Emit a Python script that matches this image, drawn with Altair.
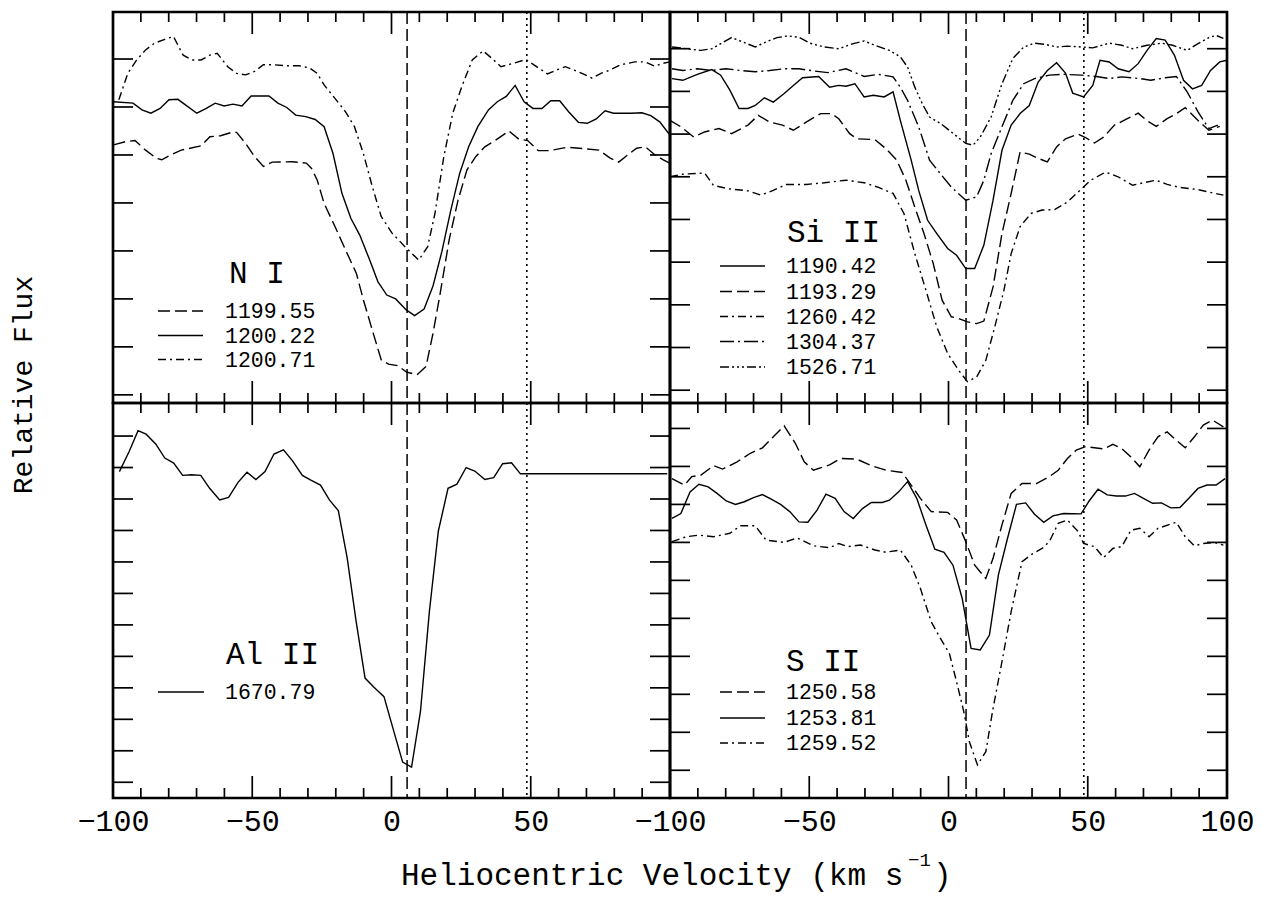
import altair as alt
import pandas as pd

FONT = "Liberation Mono"
W = 557
H_TOP = 391
H_BOT = 395

# ---------------- data (velocity km/s, relative flux in panel units) ----------------
# N I
ni1199_v = [-99.8,-95.3,-92.1,-88.3,-84.4,-82.5,-79.3,-75.5,-68.4,-65.2,-61.4,-57.5,-55.6,-52.4,-49.2,-46.0,-42.8,-35.7,-30.6,-28.7,-26.7,-24.2,-20.3,-16.5,-12.6,-10.1,-6.9,-3.7,-1.1,2.1,5.6,9.2,12.4,14.9,17.5,20.7,23.9,27.1,30.3,33.5,37.4,42.2,45.7,48.9,52.7,56.6,63.0,69.4,74.5,78.4,81.6,84.8,88.0,91.2,94.4,97.6,99.9]
ni1199_f = [5.21,5.28,5.30,5.10,4.93,4.90,5.00,5.10,5.19,5.38,5.40,5.47,5.47,5.24,4.97,4.76,4.85,4.86,4.83,4.72,4.48,3.99,3.51,3.02,2.53,1.98,1.35,0.73,0.64,0.61,0.47,0.42,0.59,1.28,2.12,3.23,4.06,4.69,4.97,5.17,5.31,5.50,5.33,5.30,5.09,5.09,5.16,5.13,5.10,4.94,4.85,5.00,5.14,5.17,5.01,4.90,4.83]
ni1200a_v = [-99.8,-92.8,-89.6,-86.4,-83.1,-79.9,-76.7,-69.9,-66.5,-63.3,-60.1,-56.9,-53.7,-50.4,-44.0,-40.8,-37.6,-34.4,-30.8,-27.4,-24.2,-21.0,-17.8,-14.6,-11.4,-8.1,-4.9,-1.7,1.5,5.3,8.3,11.7,14.9,18.1,21.3,24.5,27.7,31.0,34.8,38.0,41.2,44.4,47.6,50.8,54.0,57.2,60.4,63.6,67.1,70.3,73.5,76.7,79.7,86.1,89.9,93.1,96.3,99.9]
ni1200a_f = [6.11,6.08,5.94,5.87,5.97,6.15,6.16,5.87,5.97,6.08,6.02,6.06,6.02,6.23,6.23,6.08,5.99,5.83,5.80,5.74,5.59,5.03,4.20,3.68,3.33,2.85,2.36,2.08,2.00,1.77,1.65,1.79,2.27,2.99,3.85,4.62,5.17,5.59,5.94,6.11,6.22,6.45,6.11,5.97,5.97,6.13,6.13,5.90,5.68,5.66,5.75,5.92,5.87,5.87,5.88,5.82,5.69,5.42]
ni1200b_v = [-97.9,-94.7,-91.5,-88.3,-85.1,-81.9,-78.3,-74.8,-71.6,-68.4,-65.2,-62.6,-58.8,-55.6,-52.4,-49.2,-46.0,-42.1,-38.3,-33.2,-29.3,-26.7,-24.2,-20.3,-16.5,-13.3,-10.1,-6.9,-3.7,0.2,5.3,9.8,13.0,15.6,18.8,22.0,25.2,29.0,32.9,36.1,39.3,42.5,48.3,52.1,56.0,59.2,62.4,65.6,68.8,72.0,75.2,78.4,82.2,87.4,91.2,94.4,97.6,99.9]
ni1200b_f = [6.15,6.70,6.98,7.19,7.33,7.40,7.47,7.08,6.98,6.98,7.08,7.12,6.84,6.70,6.67,6.74,6.88,6.88,6.86,6.86,6.81,6.70,6.46,6.18,5.90,5.59,5.03,4.34,3.72,3.37,3.06,2.81,3.09,3.78,4.97,5.87,6.42,6.98,7.17,7.01,6.84,6.89,6.99,6.84,6.69,6.77,6.84,6.77,6.69,6.60,6.70,6.77,6.88,6.94,6.94,6.85,6.91,6.94]

# Si II
si1190_v = [-99.3,-95.4,-90.2,-85.0,-81.8,-78.5,-75.2,-72.0,-69.4,-66.1,-62.9,-59.0,-55.7,-52.4,-46.6,-42.7,-39.4,-36.8,-33.6,-30.3,-27.0,-23.1,-19.9,-17.3,-13.4,-10.7,-7.5,-4.2,-0.3,2.9,6.2,9.4,12.7,16.0,19.2,22.5,25.7,29.0,32.2,35.5,38.8,42.0,44.6,48.5,51.8,54.4,57.7,60.9,64.8,68.1,71.3,74.6,77.8,81.1,84.4,87.6,90.9,94.1,97.4,100.0]
si1190_f = [7.30,7.26,7.40,7.51,7.38,7.03,6.60,6.60,6.67,6.85,6.75,6.95,7.14,7.32,7.35,7.10,7.14,7.12,7.18,6.87,6.91,6.87,6.99,6.32,5.39,4.68,3.98,3.67,3.32,3.16,2.85,2.85,3.40,4.45,5.62,6.21,6.48,6.67,7.22,7.49,7.67,7.43,6.96,6.87,7.14,7.73,7.69,7.53,7.46,7.65,7.96,8.24,8.20,7.85,7.26,7.06,7.14,7.49,7.69,7.73]
si1193_v = [-100.0,-96.1,-91.5,-87.6,-82.4,-77.9,-72.0,-68.3,-64.2,-59.6,-55.7,-51.1,-45.9,-42.0,-39.4,-35.5,-32.9,-26.4,-22.5,-18.6,-15.3,-12.1,-8.8,-5.5,-2.3,1.0,3.6,6.8,10.1,12.7,16.0,19.2,22.5,25.7,29.0,32.2,35.5,38.8,42.0,46.6,49.2,52.4,55.7,59.6,64.2,68.1,71.3,74.6,78.5,81.8,85.0,89.6,93.5,97.4]
si1193_f = [6.32,6.17,5.93,6.05,6.13,6.01,6.21,6.44,6.28,6.21,6.09,6.28,6.48,6.48,6.36,6.01,5.89,5.87,5.66,5.39,4.92,4.29,3.67,2.97,2.11,1.72,1.68,1.60,1.56,1.62,2.42,3.67,4.61,5.58,5.53,5.43,5.35,5.70,5.89,6.00,5.92,5.79,5.93,6.21,6.36,6.49,6.31,6.18,6.36,6.48,6.62,6.32,6.09,6.18]
si1260_v = [-100.0,-95.4,-87.6,-84.4,-79.2,-72.0,-67.4,-62.9,-58.3,-51.1,-44.6,-36.8,-30.3,-25.1,-19.9,-16.0,-12.1,-8.1,-4.2,-0.3,3.6,6.8,10.1,13.4,16.6,19.9,22.5,25.7,29.6,33.6,38.1,42.7,47.2,51.1,56.4,60.9,66.1,70.0,74.6,78.5,83.1,89.6,93.5,98.7]
si1260_f = [5.00,5.06,5.09,4.80,4.72,4.67,4.57,4.68,4.82,4.82,4.86,4.92,4.86,4.75,4.61,4.14,3.20,2.34,1.48,0.86,0.47,0.20,0.31,0.70,1.48,2.34,3.20,3.83,4.14,4.22,4.23,4.41,4.68,4.92,5.11,5.00,4.80,4.86,4.92,4.82,4.75,4.70,4.64,4.57]
si1304_v = [-99.3,-95.4,-90.2,-85.0,-79.8,-74.6,-69.4,-64.2,-59.0,-53.7,-48.5,-43.3,-36.8,-30.3,-25.1,-19.9,-17.3,-14.7,-10.7,-6.8,-2.9,1.0,6.2,10.1,12.7,15.3,19.2,23.1,27.0,30.9,36.2,41.4,47.9,53.1,57.7,62.2,68.7,72.6,77.8,81.8,85.7,89.6,93.5,96.7]
si1304_f = [7.53,7.49,7.53,7.49,7.53,7.49,7.46,7.49,7.53,7.53,7.48,7.44,7.53,7.35,7.40,7.34,7.10,6.79,6.17,5.39,5.07,4.76,4.45,4.53,4.92,5.54,6.17,6.79,7.18,7.30,7.38,7.40,7.38,7.35,7.30,7.34,7.30,7.26,7.32,7.35,6.99,6.52,6.13,6.21]
si1526_v = [-99.3,-94.1,-88.9,-85.0,-77.9,-73.9,-69.4,-65.5,-61.6,-57.7,-53.7,-49.8,-44.6,-39.4,-34.2,-30.3,-26.4,-21.2,-17.3,-14.7,-12.1,-9.4,-6.8,-2.9,1.0,6.2,8.8,11.4,15.3,19.2,23.1,27.0,30.9,34.9,38.8,42.7,47.9,51.8,57.7,62.2,66.1,71.3,76.5,80.5,85.7,89.6,93.5,96.1,98.7]
si1526_f = [8.04,8.00,7.96,8.00,8.26,8.16,8.04,8.16,8.26,8.30,8.27,8.13,8.04,8.00,8.12,8.18,8.08,7.96,7.81,7.57,7.10,6.71,6.40,6.25,6.05,5.78,5.74,5.93,6.40,7.18,7.77,8.04,8.13,8.10,8.04,8.06,8.04,8.02,8.13,8.08,8.00,8.08,8.13,8.08,7.96,8.12,8.26,8.31,8.24]

# Al II
al1670_v = [-97.7,-94.2,-91.0,-88.1,-84.6,-81.4,-78.2,-75.0,-71.8,-68.5,-65.3,-61.7,-58.5,-55.1,-51.9,-48.7,-45.4,-42.2,-38.8,-35.6,-32.0,-28.8,-25.5,-22.3,-19.1,-15.9,-12.7,-9.5,-6.3,-2.7,0.5,4.0,7.2,10.4,13.6,16.8,20.3,23.5,26.8,29.9,33.5,36.7,39.9,43.1,46.3,99.0]
al1670_f = [9.87,10.51,11.17,11.06,10.74,10.30,10.14,9.75,9.77,9.75,9.34,8.97,9.05,9.53,9.85,9.62,9.87,10.43,10.56,10.22,9.75,9.59,9.44,8.97,8.63,7.12,5.11,3.31,3.02,2.72,1.72,0.64,0.48,2.25,5.42,7.97,9.34,9.47,10.00,9.89,9.62,9.68,10.12,10.15,9.80,9.80]

# S II
s1250_v = [-99.3,-94.8,-92.2,-88.9,-84.4,-81.1,-75.9,-71.3,-66.8,-62.9,-59.0,-55.0,-51.8,-48.5,-42.7,-38.8,-32.9,-27.7,-22.5,-16.6,-13.4,-10.1,-6.2,-0.3,2.9,6.2,9.4,13.4,16.0,19.2,22.5,26.4,31.6,36.2,39.4,42.7,45.9,49.2,55.7,59.0,62.2,65.5,68.7,72.0,75.2,78.5,81.8,85.0,88.3,91.5,94.8,98.7]
s1250_f = [7.68,7.51,7.73,7.77,8.02,7.93,8.12,8.34,8.49,8.78,9.07,8.61,8.12,7.90,8.04,8.21,8.19,8.02,7.90,7.84,7.51,7.16,6.81,6.79,6.59,6.02,5.40,5.05,5.58,6.46,7.29,7.55,7.55,7.73,7.90,8.21,8.43,8.52,8.46,8.58,8.47,8.25,7.99,8.43,8.78,8.91,8.69,8.49,8.78,9.09,9.22,9.04]
s1253_v = [-99.3,-96.1,-92.8,-89.6,-86.3,-83.1,-79.8,-76.5,-73.3,-70.0,-66.8,-63.5,-60.3,-57.0,-53.7,-50.5,-47.2,-44.0,-40.7,-37.5,-34.2,-30.9,-27.7,-23.8,-21.2,-17.9,-14.7,-11.4,-8.1,-4.9,-1.6,1.6,4.9,8.1,11.4,14.7,17.9,21.2,24.4,27.7,30.9,34.2,37.5,41.4,47.6,50.5,53.7,57.0,60.3,63.5,66.8,70.0,73.3,76.5,79.8,83.1,86.3,89.6,92.8,96.1,99.3]
s1253_f = [6.63,6.76,7.33,7.53,7.46,7.29,7.09,7.00,7.07,7.18,7.26,7.13,7.00,6.81,6.54,6.53,6.85,7.27,7.16,6.81,6.63,6.89,7.05,7.05,7.11,7.33,7.60,7.16,6.46,5.82,5.74,5.40,4.53,3.21,3.17,3.56,5.14,6.11,7.00,7.04,6.74,6.53,6.70,6.76,6.75,7.09,7.40,7.25,7.22,7.22,7.29,7.16,7.03,7.04,6.91,6.92,7.16,7.42,7.51,7.51,7.68]
s1259_v = [-99.3,-94.1,-89.6,-84.4,-78.5,-74.6,-69.4,-65.5,-59.0,-54.4,-48.5,-42.7,-39.4,-36.2,-31.6,-26.4,-22.5,-17.3,-13.4,-10.1,-6.2,-2.9,0.3,2.9,5.5,7.5,10.4,13.4,16.0,19.2,22.5,26.4,29.6,33.6,36.2,39.4,42.7,46.6,48.5,52.4,55.7,59.0,62.2,65.5,68.7,72.0,75.2,81.8,85.0,88.3,91.5,95.4,98.7]
s1259_f = [6.02,6.15,6.19,6.15,6.24,6.44,6.44,6.06,6.00,6.12,5.91,5.86,5.97,5.89,5.93,5.80,5.74,5.80,5.40,4.79,3.91,3.47,3.08,2.33,1.54,0.75,0.14,0.49,1.63,2.86,4.18,5.49,5.67,5.84,6.02,6.50,6.59,6.28,5.97,5.89,5.60,5.84,5.89,6.32,6.37,6.15,6.37,6.53,6.15,5.91,5.97,6.00,5.93]

# reference velocities (dashed / dotted verticals)
vdash_left, vdash_right = 5.6, 6.3
vdot_left, vdot_right = 48.6, 48.6

x_ticks_minor = [-90, -80, -70, -60, -40, -30, -20, -10, 10, 20, 30, 40, 60, 70, 80, 90]
x_ticks_major = [-50, 0, 50]
x_labels_left = [-100, -50, 0, 50]
x_labels_right = [-100, -50, 0, 50, 100]

# ---------------- styles ----------------
DASH = [12, 5]
DOTDASH = [8, 4, 2, 4]
DASHDOT = [14, 4, 2, 4]
DASHDOT3 = [9, 3, 2, 3, 2, 3, 2, 3]
LW = 1.4
TW = 1.7


def curves_order(curves, legend_rows):
    lookup = {c[0]: c for c in curves}
    return [lookup[r[0]] for r in legend_rows]


def panel(curves, ydom, yticks, H, vdash, vdot, title, title_pos, legend_rows,
          line_x, text_x, xlabels=None, extra=()):
    xs = alt.Scale(domain=[-100, 100], nice=False, zero=False)
    ys = alt.Scale(domain=ydom, nice=False, zero=False)
    if xlabels is None:
        xaxis = None
    else:
        xaxis = alt.Axis(values=xlabels, ticks=False, domain=False, grid=False,
                         labelFont=FONT, labelFontSize=30, labelPadding=8,
                         labelColor="black", labelFlush=False, labelOverlap=False,
                         title=None)

    def X(f):
        return alt.X(f, scale=xs, axis=xaxis)

    def Y(f):
        return alt.Y(f, scale=ys, axis=None)

    layers = []
    for name, v, fl, dash in curves:
        df = pd.DataFrame({"v": v, "f": fl})
        kw = dict(color="black", strokeWidth=LW, clip=True)
        if dash:
            kw["strokeDash"] = dash
        layers.append(alt.Chart(df).mark_line(**kw).encode(x=X("v:Q"), y=Y("f:Q")))
    layers.append(alt.Chart(pd.DataFrame({"v": [vdash]})).mark_rule(
        color="black", strokeWidth=1.5, strokeDash=[12, 5]).encode(x=X("v:Q")))
    layers.append(alt.Chart(pd.DataFrame({"v": [vdot]})).mark_rule(
        color="black", strokeWidth=1.6, strokeDash=[2, 4]).encode(x=X("v:Q")))
    for ticks, ln in ((x_ticks_minor, 10), (x_ticks_major, 22)):
        d = pd.DataFrame({"t": ticks})
        layers.append(alt.Chart(d).mark_rule(color="black", strokeWidth=TW).encode(
            x=X("t:Q"), y=alt.value(0), y2=alt.value(ln)))
        layers.append(alt.Chart(d).mark_rule(color="black", strokeWidth=TW).encode(
            x=X("t:Q"), y=alt.value(H - ln), y2=alt.value(H)))
    dy = pd.DataFrame({"t": yticks})
    layers.append(alt.Chart(dy).mark_rule(color="black", strokeWidth=TW).encode(
        y=Y("t:Q"), x=alt.value(0), x2=alt.value(20)))
    layers.append(alt.Chart(dy).mark_rule(color="black", strokeWidth=TW).encode(
        y=Y("t:Q"), x=alt.value(W - 20), x2=alt.value(W)))
    one = pd.DataFrame({"t": [title]})
    layers.append(alt.Chart(one).mark_text(
        font=FONT, fontSize=31, align="left", baseline="alphabetic", color="black"
    ).encode(x=alt.value(title_pos[0]), y=alt.value(title_pos[1]), text="t:N"))
    for c, r in zip(curves_order(curves, legend_rows), legend_rows):
        name, dash = c[0], c[3]
        ly, ty = r[1], r[2]
        kw = dict(color="black", strokeWidth=LW)
        if dash:
            kw["strokeDash"] = dash
        layers.append(alt.Chart(pd.DataFrame({"t": [name]})).mark_rule(**kw).encode(
            x=alt.value(line_x[0]), x2=alt.value(line_x[1]), y=alt.value(ly)))
        layers.append(alt.Chart(pd.DataFrame({"t": [name]})).mark_text(
            font=FONT, fontSize=21.5, align="left", baseline="alphabetic", color="black"
        ).encode(x=alt.value(text_x), y=alt.value(ty), text="t:N"))
    layers.extend(extra)
    return alt.layer(*layers).properties(width=W, height=H)


ytitle = alt.Chart(pd.DataFrame({"t": ["Relative Flux"]})).mark_text(
    font=FONT, fontSize=28, angle=270, align="center", baseline="middle", color="black"
).encode(x=alt.value(-89), y=alt.value(373), text="t:N")
xt_main = alt.Chart(pd.DataFrame({"t": ["Heliocentric Velocity (km s"]})).mark_text(
    font=FONT, fontSize=31, align="left", baseline="alphabetic", color="black"
).encode(x=alt.value(288), y=alt.value(482), text="t:N")
xt_sup = alt.Chart(pd.DataFrame({"t": ["\u22121"]})).mark_text(
    font=FONT, fontSize=19, align="left", baseline="alphabetic", color="black"
).encode(x=alt.value(795), y=alt.value(463), text="t:N")
xt_par = alt.Chart(pd.DataFrame({"t": [")"]})).mark_text(
    font=FONT, fontSize=31, align="left", baseline="alphabetic", color="black"
).encode(x=alt.value(820), y=alt.value(482), text="t:N")

TL = panel(
    [("1199.55", ni1199_v, ni1199_f, DASH),
     ("1200.22", ni1200a_v, ni1200a_f, None),
     ("1200.71", ni1200b_v, ni1200b_f, DOTDASH)],
    [-0.17, 7.98], list(range(0, 8)), H_TOP, vdash_left, vdot_left,
    "N I", (116, 271),
    [("1199.55", 299, 306), ("1200.22", 323.5, 330.5), ("1200.71", 347.5, 354.5)],
    (45, 90), 112, extra=(ytitle,))

TR = panel(
    [("1190.42", si1190_v, si1190_f, None),
     ("1193.29", si1193_v, si1193_f, DASH),
     ("1260.42", si1260_v, si1260_f, DOTDASH),
     ("1304.37", si1304_v, si1304_f, DASHDOT),
     ("1526.71", si1526_v, si1526_f, DASHDOT3)],
    [-0.30, 8.86], list(range(0, 9)), H_TOP, vdash_right, vdot_right,
    "Si II", (117, 230),
    [("1190.42", 254, 261), ("1193.29", 279.5, 286.5), ("1260.42", 304.5, 311.5),
     ("1304.37", 329.5, 336.5), ("1526.71", 355, 362)],
    (50, 95), 116)

BL = panel(
    [("1670.79", al1670_v, al1670_f, None)],
    [-0.50, 12.05], list(range(0, 12)), H_BOT, vdash_left, vdot_left,
    "Al II", (113, 261),
    [("1670.79", 289, 296)],
    (45, 91), 112, xlabels=x_labels_left, extra=(xt_main, xt_sup, xt_par))

BR = panel(
    [("1250.58", s1250_v, s1250_f, DASH),
     ("1253.81", s1253_v, s1253_f, None),
     ("1259.52", s1259_v, s1259_f, DOTDASH)],
    [-0.73, 9.67], list(range(0, 10)), H_BOT, vdash_right, vdot_right,
    "S II", (116, 268),
    [("1250.58", 289, 296), ("1253.81", 315, 322), ("1259.52", 340, 347)],
    (50, 95), 116, xlabels=x_labels_right)

# fixed canvas: origin of the top-left panel at page (113, 12), canvas 1246 x 888
chart = alt.concat(
    TL, TR, BL, BR, columns=2, spacing=0, bounds="flush",
    autosize=alt.AutoSizeParams(type="none"),
    padding={"left": 105, "top": 4, "right": 1141, "bottom": 884},
    background="white",
).configure_view(stroke="black", strokeWidth=2.7)

chart.save("out.html", embed_options={"renderer": "svg", "actions": False})
